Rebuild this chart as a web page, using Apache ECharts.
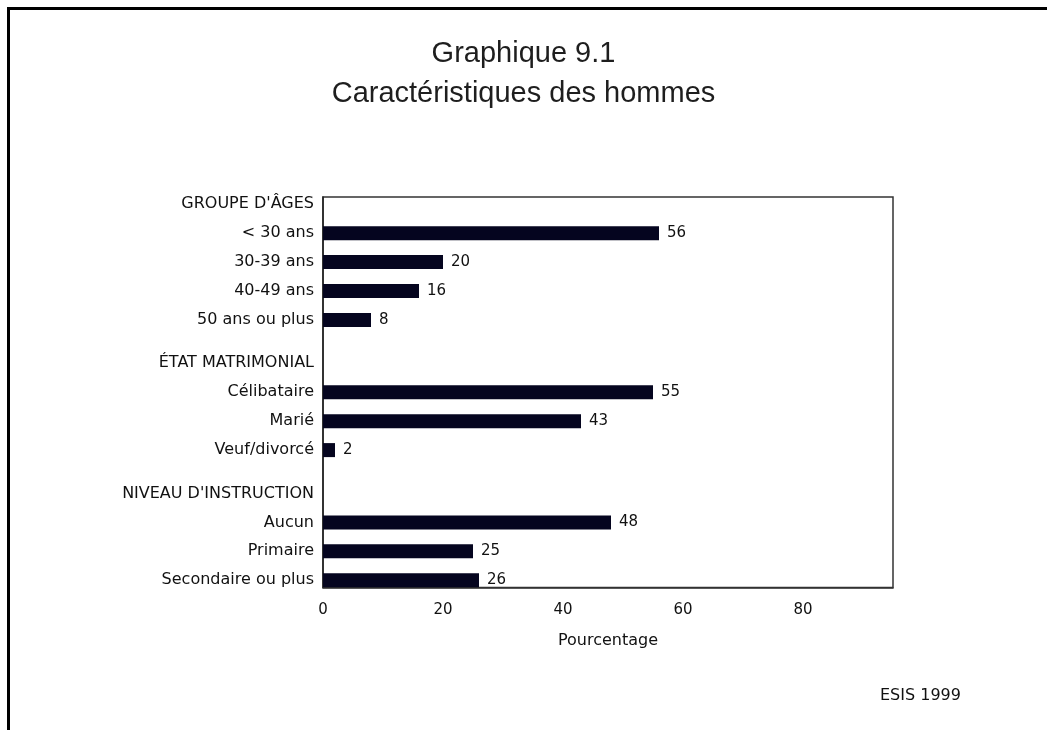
<!DOCTYPE html>
<html>
<head>
<meta charset="utf-8">
<script src="https://cdn.jsdelivr.net/npm/echarts@6/dist/echarts.min.js"></script>
<style>
  html, body { margin: 0; padding: 0; background: #fff; }
  #chart { width: 1047px; height: 730px; }
</style>
</head>
<body>
<div id="chart"></div>
<script>
// ---- data ----
const titleLines = ['Graphique 9.1', 'Caractéristiques des hommes'];
const headers = ["GROUPE D'ÂGES", 'ÉTAT MATRIMONIAL', "NIVEAU D'INSTRUCTION"];
const ageLabels = ['< 30 ans', '30-39 ans', '40-49 ans', '50 ans ou plus'];
const ageValues = [56, 20, 16, 8];
const maritalLabels = ['Célibataire', 'Marié', 'Veuf/divorcé'];
const maritalValues = [55, 43, 2];
const eduLabels = ['Aucun', 'Primaire', 'Secondaire ou plus'];
const eduValues = [48, 25, 26];
const xTicks = [0, 20, 40, 60, 80];
const xMax = 95;
const axisTitle = 'Pourcentage';
const sourceNote = 'ESIS 1999';

// ---- build category rows (headers + items, with half-row spacers) ----
const groups = [
  { header: headers[0], labels: ageLabels, values: ageValues },
  { header: headers[1], labels: maritalLabels, values: maritalValues },
  { header: headers[2], labels: eduLabels, values: eduValues }
];
const cats = [], vals = [];
groups.forEach((g, gi) => {
  if (gi > 0) { cats.push('', ''); vals.push(null, null); }
  cats.push(g.header); vals.push(null);
  g.labels.forEach((l, i) => {
    cats.push(''); vals.push(null);
    cats.push(l); vals.push(g.values[i]);
  });
});

const FONT = 'DejaVu Sans';
const chart = echarts.init(document.getElementById('chart'), null, { renderer: 'canvas' });
chart.setOption({
  backgroundColor: '#ffffff',
  animation: false,
  title: {
    text: titleLines.join('\n'),
    left: 'center',
    top: 34,
    padding: 0,
    textStyle: {
      fontFamily: 'Liberation Sans',
      fontSize: 29,
      fontWeight: 'normal',
      color: '#1e1e1e',
      lineHeight: 40,
      align: 'center'
    }
  },
  grid: {
    left: 323, top: 197, right: 154, bottom: 142.5,
    show: true, borderColor: '#333', borderWidth: 1.5, backgroundColor: 'transparent'
  },
  xAxis: {
    type: 'value',
    min: xTicks[0],
    max: xMax,
    interval: xTicks[1] - xTicks[0],
    axisLine: { show: true, lineStyle: { color: '#333', width: 1.5 } },
    axisTick: { show: false },
    splitLine: { show: false },
    axisLabel: {
      margin: 15, showMaxLabel: false,
      fontFamily: FONT, fontSize: 15, color: '#111'
    },
    name: axisTitle,
    nameLocation: 'middle',
    nameGap: 45,
    nameTextStyle: { fontFamily: FONT, fontSize: 16, color: '#111' }
  },
  yAxis: {
    type: 'category',
    inverse: true,
    data: cats,
    axisLine: { show: true, lineStyle: { color: '#222', width: 1.5 } },
    axisTick: { show: false },
    splitLine: { show: false },
    axisLabel: {
      interval: 0, margin: 9,
      padding: [6, 0, 0, 0],
      fontFamily: FONT, fontSize: 16, color: '#111'
    }
  },
  series: [{
    type: 'bar',
    data: vals,
    barWidth: 14,
    itemStyle: { color: '#05051f' },
    label: {
      show: true, position: 'right', distance: 8,
      padding: [4, 0, 0, 0],
      fontFamily: FONT, fontSize: 15, color: '#111'
    }
  }],
  graphic: [
    { type: 'rect', shape: { x: 7, y: 7, width: 1040, height: 3 }, style: { fill: '#000' } },
    { type: 'rect', shape: { x: 7, y: 7, width: 3, height: 723 }, style: { fill: '#000' } },
    { type: 'text', left: 880, top: 688, style: { text: sourceNote, font: '16px "DejaVu Sans"', fill: '#111' } }
  ]
});
</script>
</body>
</html>
